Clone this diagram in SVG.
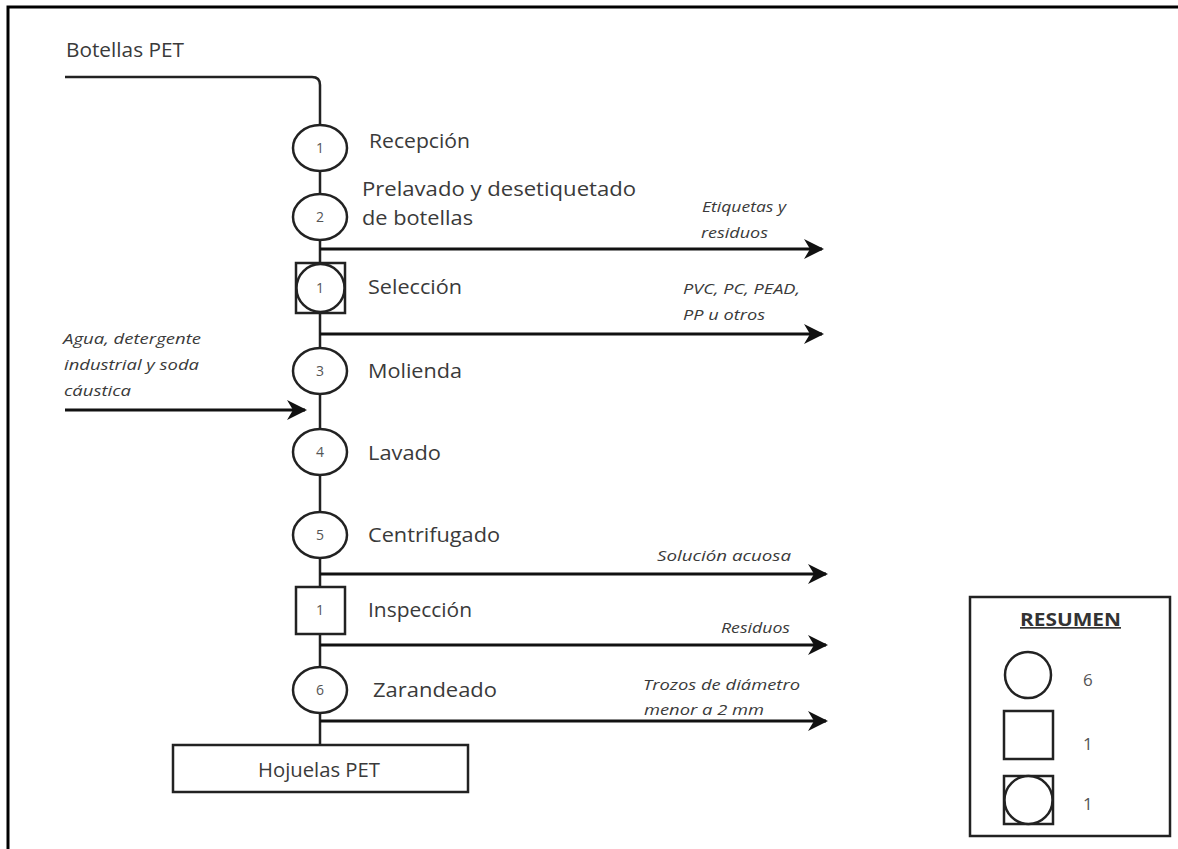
<svg xmlns="http://www.w3.org/2000/svg" width="1178" height="849" viewBox="0 0 1178 849">
<defs>
<marker id="ah" markerUnits="userSpaceOnUse" markerWidth="22" markerHeight="22" refX="18" refY="10" orient="auto">
<path d="M0,0 L20,10 L0,20 L6,10 z" fill="#111"/>
</marker>
<style>
.ln{fill:none;stroke:#222;stroke-width:2.5}
.ar{fill:none;stroke:#111;stroke-width:3;marker-end:url(#ah)}
.sh{fill:#fff;stroke:#222;stroke-width:2.5}
.lb{font-family:"Open Sans","Liberation Sans",sans-serif;font-size:20px;fill:#3a3a3a}
.nm{font-family:"Open Sans","Liberation Sans",sans-serif;font-size:14px;fill:#555;text-anchor:middle}
.it{font-family:"Open Sans","Liberation Sans",sans-serif;font-size:15px;font-style:italic;fill:#3a3a3a}
.ct{font-family:"Open Sans","Liberation Sans",sans-serif;font-size:17px;fill:#555}
</style>
</defs>
<rect width="1178" height="849" fill="#fff"/>
<path d="M8,849 L8,7 L1178,7" fill="none" stroke="#000" stroke-width="3"/>

<g id="connectors">
<path class="ln" d="M65,77 L312,77 Q320,77 320,85 L320,745"/>
<path class="ar" d="M320,249 L822,249"/>
<path class="ar" d="M320,334 L822,334"/>
<path class="ar" d="M65,410 L305,410"/>
<path class="ar" d="M320,574 L826,574"/>
<path class="ar" d="M320,645 L826,645"/>
<path class="ar" d="M320,721 L826,721"/>
<text class="it" x="702" y="212" textLength="84" lengthAdjust="spacingAndGlyphs">Etiquetas y</text>
<text class="it" x="701" y="238" textLength="67" lengthAdjust="spacingAndGlyphs">residuos</text>
<text class="it" x="683" y="294" textLength="117" lengthAdjust="spacingAndGlyphs">PVC, PC, PEAD,</text>
<text class="it" x="683" y="320" textLength="82" lengthAdjust="spacingAndGlyphs">PP u otros</text>
<text class="it" x="63" y="344" textLength="138" lengthAdjust="spacingAndGlyphs">Agua, detergente</text>
<text class="it" x="64" y="370" textLength="135" lengthAdjust="spacingAndGlyphs">industrial y soda</text>
<text class="it" x="64" y="396" textLength="67" lengthAdjust="spacingAndGlyphs">cáustica</text>
<text class="it" x="657" y="561" textLength="134" lengthAdjust="spacingAndGlyphs">Solución acuosa</text>
<text class="it" x="721" y="633" textLength="69" lengthAdjust="spacingAndGlyphs">Residuos</text>
<text class="it" x="643" y="690" textLength="157" lengthAdjust="spacingAndGlyphs">Trozos de diámetro</text>
<text class="it" x="644" y="715" textLength="120" lengthAdjust="spacingAndGlyphs">menor a 2 mm</text>
</g>

<g id="input">
<text class="lb" x="66" y="57" textLength="118" lengthAdjust="spacingAndGlyphs">Botellas PET</text>
</g>

<g id="op1">
<ellipse class="sh" cx="320" cy="148" rx="27" ry="23"/>
<text class="nm" x="320" y="153">1</text>
<text class="lb" x="369" y="148" textLength="101" lengthAdjust="spacingAndGlyphs">Recepción</text>
</g>
<g id="op2">
<ellipse class="sh" cx="320" cy="217" rx="27" ry="23"/>
<text class="nm" x="320" y="222">2</text>
<text class="lb" x="362" y="196" textLength="274" lengthAdjust="spacingAndGlyphs">Prelavado y desetiquetado</text>
<text class="lb" x="362" y="225" textLength="111" lengthAdjust="spacingAndGlyphs">de botellas</text>
</g>
<g id="comb1">
<rect class="sh" x="296" y="263" width="49" height="50"/>
<circle class="sh" cx="320.5" cy="288" r="24"/>
<text class="nm" x="320" y="293">1</text>
<text class="lb" x="368" y="294" textLength="94" lengthAdjust="spacingAndGlyphs">Selección</text>
</g>
<g id="op3">
<ellipse class="sh" cx="320" cy="371" rx="27" ry="23"/>
<text class="nm" x="320" y="376">3</text>
<text class="lb" x="368" y="378" textLength="94" lengthAdjust="spacingAndGlyphs">Molienda</text>
</g>
<g id="op4">
<ellipse class="sh" cx="320" cy="452" rx="27" ry="23"/>
<text class="nm" x="320" y="457">4</text>
<text class="lb" x="368" y="460" textLength="73" lengthAdjust="spacingAndGlyphs">Lavado</text>
</g>
<g id="op5">
<ellipse class="sh" cx="320" cy="535" rx="27" ry="23"/>
<text class="nm" x="320" y="540">5</text>
<text class="lb" x="368" y="542" textLength="132" lengthAdjust="spacingAndGlyphs">Centrifugado</text>
</g>
<g id="insp1">
<rect class="sh" x="296" y="587" width="49" height="47"/>
<text class="nm" x="320" y="615">1</text>
<text class="lb" x="368" y="617" textLength="104" lengthAdjust="spacingAndGlyphs">Inspección</text>
</g>
<g id="op6">
<ellipse class="sh" cx="320" cy="690" rx="27" ry="23"/>
<text class="nm" x="320" y="695">6</text>
<text class="lb" x="373" y="697" textLength="124" lengthAdjust="spacingAndGlyphs">Zarandeado</text>
</g>
<g id="output">
<rect class="sh" x="173" y="745" width="295" height="47"/>
<text class="lb" x="258" y="777" textLength="122" lengthAdjust="spacingAndGlyphs">Hojuelas PET</text>
</g>

<g id="resumen">
<rect x="970" y="597" width="200" height="239" fill="#fff" stroke="#222" stroke-width="2.5"/>
<text x="1020" y="626" textLength="101" lengthAdjust="spacingAndGlyphs" font-family="Open Sans, Liberation Sans, sans-serif" font-size="17" font-weight="bold" fill="#333" text-decoration="underline">RESUMEN</text>
<circle class="sh" cx="1028" cy="675" r="23"/>
<text class="ct" x="1083" y="686">6</text>
<rect class="sh" x="1004" y="711" width="49" height="48"/>
<text class="ct" x="1083" y="750">1</text>
<rect class="sh" x="1004" y="776" width="49" height="48"/>
<circle class="sh" cx="1028.5" cy="800" r="24"/>
<text class="ct" x="1083" y="810">1</text>
</g>
</svg>
